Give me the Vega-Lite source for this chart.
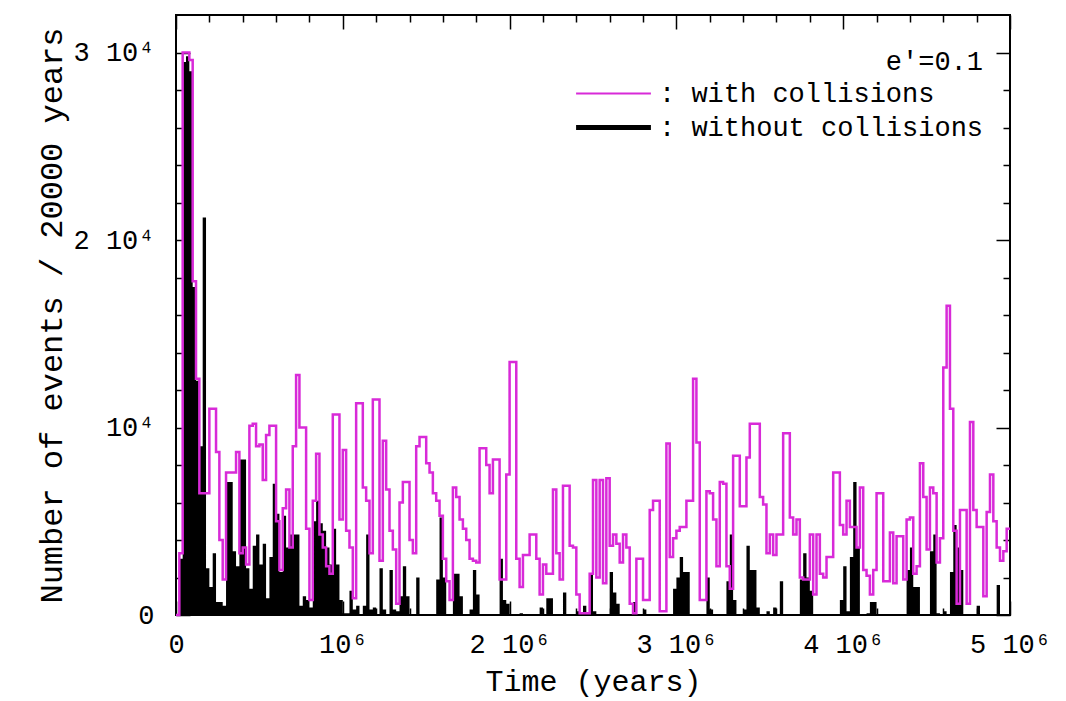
{
"$schema": "https://vega.github.io/schema/vega-lite/v6.json",
"width": 834, "height": 600,
"autosize": {"type": "none"},
"padding": {"left": 176, "top": 15, "right": 56, "bottom": 86},
"background": "white",
"config": {"view": {"stroke": "black", "strokeWidth": 2}, "font": "Liberation Mono"},
"data": {"values": [
{"t":0,"with":0,"without":0},{"t":20000,"with":3300,"without":3000},{"t":40000,"with":30000,"without":29500},{"t":60000,"with":30000,"without":29800},{"t":80000,"with":29600,"without":29000},
{"t":100000,"with":17800,"without":17500},{"t":120000,"with":12600,"without":12500},{"t":140000,"with":6500,"without":9000},{"t":160000,"with":6500,"without":21200},{"t":180000,"with":6500,"without":2500},
{"t":200000,"with":11000,"without":1500},{"t":220000,"with":11000,"without":3300},{"t":240000,"with":8700,"without":700},{"t":260000,"with":4000,"without":700},{"t":280000,"with":1900,"without":500},
{"t":300000,"with":7600,"without":7100},{"t":320000,"with":7600,"without":7100},{"t":340000,"with":7600,"without":3400},{"t":360000,"with":8700,"without":2600},{"t":380000,"with":3300,"without":8300},
{"t":400000,"with":3600,"without":8300},{"t":420000,"with":2700,"without":2500},{"t":440000,"with":10100,"without":1400},{"t":460000,"with":10200,"without":3700},{"t":480000,"with":9000,"without":4300},
{"t":500000,"with":9100,"without":2700},{"t":520000,"with":7200,"without":3800},{"t":540000,"with":9600,"without":900},{"t":560000,"with":10100,"without":3100},{"t":580000,"with":10100,"without":7000},
{"t":600000,"with":5000,"without":5400},{"t":620000,"with":2400,"without":2300},{"t":640000,"with":5700,"without":5300},{"t":660000,"with":6700,"without":3600},{"t":680000,"with":3600,"without":4300},
{"t":700000,"with":9000,"without":4300},{"t":720000,"with":12800,"without":4300},{"t":740000,"with":10000,"without":500},{"t":760000,"with":10000,"without":1000},{"t":780000,"with":4600,"without":800},
{"t":800000,"with":800,"without":400},{"t":820000,"with":6100,"without":5000},{"t":840000,"with":8600,"without":6100},{"t":860000,"with":4300,"without":4900},{"t":880000,"with":3600,"without":4500},
{"t":900000,"with":2600,"without":3600},{"t":920000,"with":2200,"without":2700},{"t":940000,"with":10700,"without":4600},{"t":960000,"with":10700,"without":2700},{"t":980000,"with":5100,"without":800},
{"t":1000000,"with":8800,"without":100},{"t":1020000,"with":4500,"without":100},{"t":1040000,"with":3600,"without":1300},{"t":1060000,"with":900,"without":300},{"t":1080000,"with":11300,"without":500},
{"t":1100000,"with":11300,"without":0},{"t":1120000,"with":6800,"without":500},{"t":1140000,"with":6100,"without":4300},{"t":1160000,"with":3300,"without":300},{"t":1180000,"with":11500,"without":400},
{"t":1200000,"with":11500,"without":0},{"t":1220000,"with":2900,"without":2500},{"t":1240000,"with":9300,"without":300},{"t":1260000,"with":6700,"without":0},{"t":1280000,"with":4500,"without":2400},
{"t":1300000,"with":3500,"without":300},{"t":1320000,"with":600,"without":200},{"t":1340000,"with":6000,"without":1000},{"t":1360000,"with":7100,"without":2600},{"t":1380000,"with":7100,"without":1000},
{"t":1400000,"with":4000,"without":0},{"t":1420000,"with":3300,"without":0},{"t":1440000,"with":9000,"without":2000},{"t":1460000,"with":9500,"without":0},{"t":1480000,"with":9500,"without":0},
{"t":1500000,"with":8100,"without":0},{"t":1520000,"with":7600,"without":0},{"t":1540000,"with":6500,"without":0},{"t":1560000,"with":6100,"without":1900},{"t":1580000,"with":5300,"without":5200},
{"t":1600000,"with":3000,"without":2000},{"t":1620000,"with":1800,"without":0},{"t":1640000,"with":800,"without":0},{"t":1660000,"with":6800,"without":2200},{"t":1680000,"with":6300,"without":2200},
{"t":1700000,"with":5100,"without":1000},{"t":1720000,"with":4600,"without":0},{"t":1740000,"with":4000,"without":0},{"t":1760000,"with":3000,"without":300},{"t":1780000,"with":2900,"without":2400},
{"t":1800000,"with":2800,"without":1100},{"t":1820000,"with":8900,"without":0},{"t":1840000,"with":8900,"without":0},{"t":1860000,"with":8000,"without":0},{"t":1880000,"with":6500,"without":0},
{"t":1900000,"with":8300,"without":0},{"t":1920000,"with":8300,"without":0},{"t":1940000,"with":1900,"without":3000},{"t":1960000,"with":1900,"without":800},{"t":1980000,"with":7500,"without":600},
{"t":2000000,"with":13500,"without":0},{"t":2020000,"with":13500,"without":0},{"t":2040000,"with":3000,"without":0},{"t":2060000,"with":1500,"without":100},{"t":2080000,"with":3200,"without":0},
{"t":2100000,"with":3200,"without":0},{"t":2120000,"with":4300,"without":0},{"t":2140000,"with":4300,"without":0},{"t":2160000,"with":3000,"without":0},{"t":2180000,"with":1100,"without":400},
{"t":2200000,"with":2700,"without":0},{"t":2220000,"with":2200,"without":900},{"t":2240000,"with":2200,"without":900},{"t":2260000,"with":6700,"without":0},{"t":2280000,"with":3300,"without":0},
{"t":2300000,"with":1900,"without":0},{"t":2320000,"with":6900,"without":1200},{"t":2340000,"with":6900,"without":0},{"t":2360000,"with":3700,"without":0},{"t":2380000,"with":3600,"without":0},
{"t":2400000,"with":1100,"without":200},{"t":2420000,"with":100,"without":0},{"t":2440000,"with":100,"without":500},{"t":2460000,"with":100,"without":0},{"t":2480000,"with":2200,"without":2200},
{"t":2500000,"with":7200,"without":200},{"t":2520000,"with":2000,"without":0},{"t":2540000,"with":7200,"without":0},{"t":2560000,"with":1700,"without":0},{"t":2580000,"with":7300,"without":0},
{"t":2600000,"with":3700,"without":2300},{"t":2620000,"with":4300,"without":1200},{"t":2640000,"with":3800,"without":600},{"t":2660000,"with":2800,"without":0},{"t":2680000,"with":4300,"without":0},
{"t":2700000,"with":3600,"without":0},{"t":2720000,"with":600,"without":0},{"t":2740000,"with":100,"without":700},{"t":2760000,"with":3000,"without":0},{"t":2780000,"with":3000,"without":0},
{"t":2800000,"with":800,"without":300},{"t":2820000,"with":800,"without":0},{"t":2840000,"with":5600,"without":0},{"t":2860000,"with":6100,"without":0},{"t":2880000,"with":6100,"without":0},
{"t":2900000,"with":200,"without":0},{"t":2920000,"with":200,"without":0},{"t":2940000,"with":9150,"without":0},{"t":2960000,"with":3100,"without":0},{"t":2980000,"with":4100,"without":1400},
{"t":3000000,"with":4500,"without":2000},{"t":3020000,"with":4700,"without":3100},{"t":3040000,"with":4700,"without":2300},{"t":3060000,"with":6100,"without":2300},{"t":3080000,"with":6100,"without":0},
{"t":3100000,"with":12600,"without":0},{"t":3120000,"with":9200,"without":0},{"t":3140000,"with":800,"without":0},{"t":3160000,"with":800,"without":0},{"t":3180000,"with":6600,"without":2000},
{"t":3200000,"with":6500,"without":300},{"t":3220000,"with":5100,"without":0},{"t":3240000,"with":2600,"without":0},{"t":3260000,"with":7100,"without":0},{"t":3280000,"with":7000,"without":0},
{"t":3300000,"with":2600,"without":1800},{"t":3320000,"with":1400,"without":4300},{"t":3340000,"with":8500,"without":800},{"t":3360000,"with":8500,"without":0},{"t":3380000,"with":5800,"without":0},
{"t":3400000,"with":5800,"without":300},{"t":3420000,"with":8400,"without":3700},{"t":3440000,"with":10200,"without":2400},{"t":3460000,"with":10200,"without":2400},{"t":3480000,"with":10200,"without":400},
{"t":3500000,"with":6300,"without":0},{"t":3520000,"with":5900,"without":0},{"t":3540000,"with":3300,"without":200},{"t":3560000,"with":4300,"without":0},{"t":3580000,"with":3200,"without":400},
{"t":3600000,"with":4300,"without":0},{"t":3620000,"with":4300,"without":1800},{"t":3640000,"with":9700,"without":0},{"t":3660000,"with":9700,"without":0},{"t":3680000,"with":5200,"without":0},
{"t":3700000,"with":4300,"without":0},{"t":3720000,"with":5100,"without":0},{"t":3740000,"with":2000,"without":1900},{"t":3760000,"with":1900,"without":3300},{"t":3780000,"with":1900,"without":2000},
{"t":3800000,"with":4300,"without":1300},{"t":3820000,"with":1100,"without":0},{"t":3840000,"with":4300,"without":0},{"t":3860000,"with":2200,"without":0},{"t":3880000,"with":2000,"without":0},
{"t":3900000,"with":3100,"without":0},{"t":3920000,"with":3100,"without":0},{"t":3940000,"with":7600,"without":0},{"t":3960000,"with":7600,"without":0},{"t":3980000,"with":4800,"without":800},
{"t":4000000,"with":4300,"without":2600},{"t":4020000,"with":6100,"without":200},{"t":4040000,"with":4700,"without":3100},{"t":4060000,"with":4700,"without":7100},{"t":4080000,"with":3600,"without":3600},
{"t":4100000,"with":6800,"without":0},{"t":4120000,"with":2400,"without":0},{"t":4140000,"with":2100,"without":100},{"t":4160000,"with":1100,"without":700},{"t":4180000,"with":2400,"without":700},
{"t":4200000,"with":6500,"without":0},{"t":4220000,"with":6500,"without":0},{"t":4240000,"with":1800,"without":0},{"t":4260000,"with":1800,"without":0},{"t":4280000,"with":4400,"without":0},
{"t":4300000,"with":1700,"without":0},{"t":4320000,"with":4200,"without":0},{"t":4340000,"with":4200,"without":0},{"t":4360000,"with":1900,"without":0},{"t":4380000,"with":5100,"without":2400},
{"t":4400000,"with":5200,"without":3600},{"t":4420000,"with":2200,"without":1500},{"t":4440000,"with":2600,"without":1500},{"t":4460000,"with":8100,"without":0},{"t":4480000,"with":6300,"without":0},
{"t":4500000,"with":3500,"without":0},{"t":4520000,"with":6800,"without":3400},{"t":4540000,"with":6500,"without":4300},{"t":4560000,"with":2800,"without":100},{"t":4580000,"with":4100,"without":0},
{"t":4600000,"with":13200,"without":200},{"t":4620000,"with":16500,"without":0},{"t":4640000,"with":11000,"without":2300},{"t":4660000,"with":4500,"without":4800},{"t":4680000,"with":600,"without":3600},
{"t":4700000,"with":5600,"without":2400},{"t":4720000,"with":5600,"without":0},{"t":4740000,"with":600,"without":0},{"t":4760000,"with":10300,"without":0},{"t":4780000,"with":5600,"without":0},
{"t":4800000,"with":4700,"without":500},{"t":4820000,"with":4700,"without":0},{"t":4840000,"with":1000,"without":0},{"t":4860000,"with":5500,"without":0},{"t":4880000,"with":7500,"without":0},
{"t":4900000,"with":5000,"without":0},{"t":4920000,"with":3600,"without":1600},{"t":4940000,"with":2900,"without":0},{"t":4960000,"with":3400,"without":0},{"t":4980000,"with":4600,"without":0},
{"t":5000000,"with":4600,"without":0}
]},
"layer": [
{"mark": {"type": "area", "interpolate": "step-after", "color": "black"},
 "encoding": {
  "x": {"field": "t", "type": "quantitative", "scale": {"domain": [0, 5000000], "nice": false, "zero": false},
   "axis": {"orient": "bottom", "values": [0,200000,400000,600000,800000,1000000,1200000,1400000,1600000,1800000,2000000,2200000,2400000,2600000,2800000,3000000,3200000,3400000,3600000,3800000,4000000,4200000,4400000,4600000,4800000,5000000],
    "labelExpr": "datum.value === 0 ? '0' : datum.value === 1000000 ? '10⁶' : datum.value === 2000000 ? '2 10⁶' : datum.value === 3000000 ? '3 10⁶' : datum.value === 4000000 ? '4 10⁶' : datum.value === 5000000 ? '5 10⁶' : ''",
    "tickSize": {"condition": {"test": "datum.value % 1000000 === 0", "value": -14}, "value": -7},
    "tickColor": "black", "tickWidth": 1.5, "domain": false, "grid": false,
    "labelPadding": 30, "labelFlush": false, "labelOverlap": false, "labelFontSize": 27, "labelColor": "black", "labelFont": "Liberation Mono",
    "title": "Time (years)", "titleFontSize": 30, "titleFont": "Liberation Mono", "titleFontWeight": "normal", "titleColor": "black", "titlePadding": 2}},
  "y": {"field": "without", "type": "quantitative", "scale": {"domain": [0, 32000], "nice": false},
   "axis": {"orient": "left", "values": [0,2000,4000,6000,8000,10000,12000,14000,16000,18000,20000,22000,24000,26000,28000,30000],
    "labelExpr": "datum.value === 0 ? '0' : datum.value === 10000 ? '10⁴' : datum.value === 20000 ? '2 10⁴' : datum.value === 30000 ? '3 10⁴' : ''",
    "tickSize": {"condition": {"test": "datum.value % 10000 === 0", "value": -14}, "value": -7},
    "tickColor": "black", "tickWidth": 1.5, "domain": false, "grid": false,
    "labelPadding": 36, "labelOverlap": false, "labelFlush": false, "labelFontSize": 27, "labelColor": "black", "labelFont": "Liberation Mono",
    "title": "Number of events / 20000 years", "titleFontSize": 32, "titleFont": "Liberation Mono", "titleFontWeight": "normal", "titleColor": "black", "titlePadding": 4}}
 }},
{"mark": {"type": "line", "interpolate": "step-after", "strokeWidth": 2.5},
 "encoding": {
  "x": {"field": "t", "type": "quantitative",
   "axis": {"orient": "top", "values": [0,200000,400000,600000,800000,1000000,1200000,1400000,1600000,1800000,2000000,2200000,2400000,2600000,2800000,3000000,3200000,3400000,3600000,3800000,4000000,4200000,4400000,4600000,4800000,5000000],
    "labels": false, "title": null, "domain": false, "grid": false, "tickColor": "black", "tickWidth": 1.5,
    "tickSize": {"condition": {"test": "datum.value % 1000000 === 0", "value": -14}, "value": -7}}},
  "y": {"field": "with", "type": "quantitative",
   "axis": {"orient": "right", "values": [0,2000,4000,6000,8000,10000,12000,14000,16000,18000,20000,22000,24000,26000,28000,30000],
    "labels": false, "title": null, "domain": false, "grid": false, "tickColor": "black", "tickWidth": 1.5,
    "tickSize": {"condition": {"test": "datum.value % 10000 === 0", "value": -14}, "value": -7}}},
  "color": {"datum": ": with collisions", "type": "nominal",
   "scale": {"domain": [": with collisions", ": without collisions"], "range": ["#d82ad8", "black"]},
   "legend": {"orient": "none", "legendX": 424, "legendY": 34, "title": "e'=0.1", "titleAnchor": "end", "titleFontSize": 27, "titleFont": "Liberation Mono", "titleFontWeight": "normal", "titleColor": "black", "titlePadding": 4,
    "labelFontSize": 27, "labelFont": "Liberation Mono", "labelColor": "black", "labelLimit": 0, "labelOffset": 32,
    "symbolType": "stroke", "symbolSize": 5600, "symbolStrokeWidth": {"expr": "datum.value === ': with collisions' ? 2 : 5"}, "rowPadding": 6}}
 }}
],
"resolve": {"axis": {"x": "independent", "y": "independent"}}
}
